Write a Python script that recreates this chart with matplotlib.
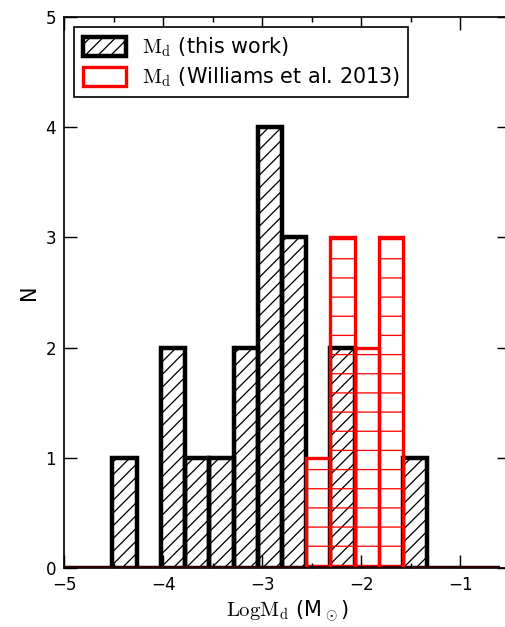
import numpy as np
import matplotlib
matplotlib.use("Agg")
import matplotlib.pyplot as plt
from matplotlib.ticker import MultipleLocator

plt.rcParams['mathtext.fontset'] = 'cm'
plt.rcParams['font.family'] = ['DejaVu Sans']
plt.rcParams['hatch.linewidth'] = 0.8

DPI = 115

# histogram bins in log disk mass
bin_edges = np.linspace(-5.0, -0.6, 19)

# counts per bin
n_this_work = [0, 0, 1, 0, 2, 1, 1, 2, 4, 3, 0, 2, 0, 0, 1, 0, 0, 0]
n_williams = [0, 0, 0, 0, 0, 0, 0, 0, 0, 0, 1, 3, 2, 3, 0, 0, 0, 0]

centers = 0.5 * (bin_edges[:-1] + bin_edges[1:])

fig = plt.figure(figsize=(505 / DPI, 627 / DPI), dpi=DPI)
ax = fig.add_axes([64 / 505, 59 / 627, (510 - 64) / 505, (568 - 17) / 627])

ax.hist(centers, bins=bin_edges, weights=n_this_work, histtype='bar',
        fill=False, edgecolor='black', linewidth=2.8, hatch='///',
        label=r'$\mathrm{M_d}$ (this work)')
ax.hist(centers, bins=bin_edges, weights=n_williams, histtype='bar',
        fill=False, edgecolor='red', linewidth=2.1, hatch='-',
        label=r'$\mathrm{M_d}$ (Williams et al. 2013)')

ax.set_xlim(-5, -0.5)
ax.set_ylim(0, 5)
ax.xaxis.set_major_locator(MultipleLocator(1))
ax.xaxis.set_minor_locator(MultipleLocator(0.5))
ax.yaxis.set_major_locator(MultipleLocator(1))
ax.tick_params(which='both', direction='in', top=True, right=True,
               labelsize=10.5, width=0.9)
ax.tick_params(which='major', length=8.3, pad=5)
ax.tick_params(which='minor', length=3.3)
for s in ax.spines.values():
    s.set_linewidth(1.05)

ax.set_xlabel(r'$\mathrm{LogM_d}$ (M$_\odot$)', fontsize=13, labelpad=3)
ax.set_ylabel('N', fontsize=13, labelpad=4)

leg = ax.legend(loc='upper left', fontsize=13, fancybox=False,
                framealpha=1, edgecolor='black', handlelength=2.1,
                handleheight=1.0, borderaxespad=0.5, borderpad=0.4,
                labelspacing=0.3, handletextpad=0.75)
leg.get_frame().set_linewidth(1.05)

fig.savefig('out.png', dpi=DPI)
